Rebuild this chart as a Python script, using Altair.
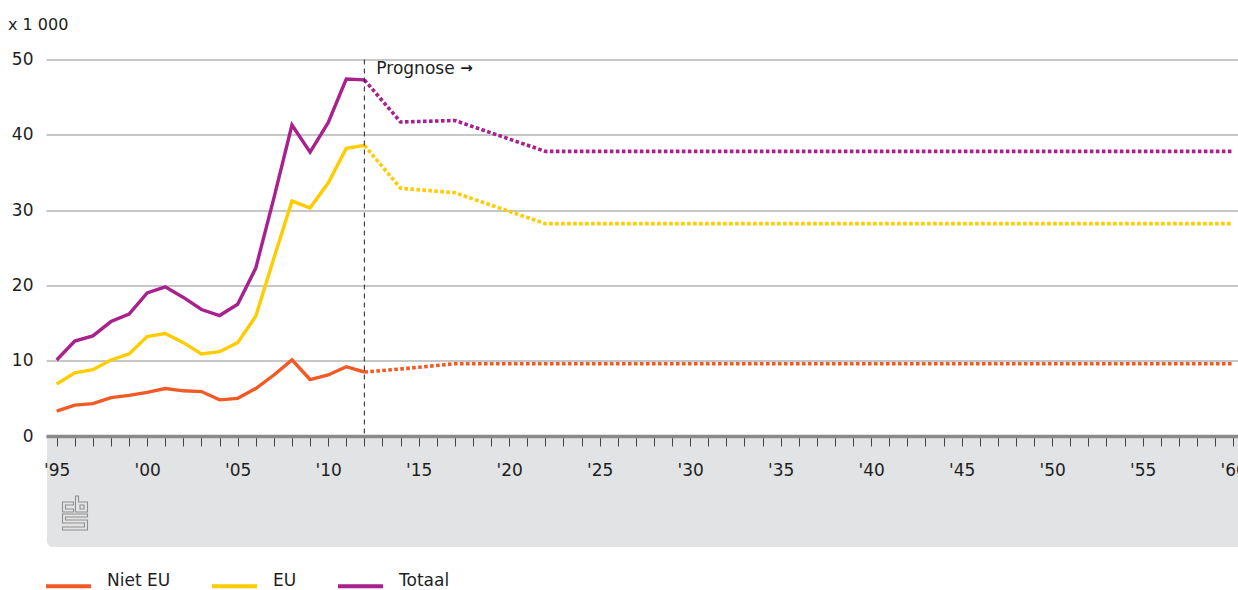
import altair as alt
import pandas as pd

# ---- data ----
series_names = ["Niet EU", "EU", "Totaal"]
series_colors = ["#f15a24", "#ffcc00", "#a8218e"]

years_hist = list(range(1995, 2013))
niet_eu_hist = [3.3, 4.1, 4.3, 5.1, 5.4, 5.8, 6.3, 6.0, 5.9, 4.8, 5.0, 6.3, 8.1, 10.1, 7.5, 8.1, 9.2, 8.5]
eu_hist = [6.9, 8.4, 8.8, 10.1, 10.9, 13.2, 13.6, 12.4, 10.9, 11.2, 12.4, 15.9, 23.6, 31.2, 30.3, 33.6, 38.2, 38.6]
totaal_hist = [10.1, 12.6, 13.3, 15.2, 16.2, 19.0, 19.8, 18.4, 16.8, 16.0, 17.5, 22.3, 31.6, 41.3, 37.7, 41.6, 47.4, 47.3]

years_prog = [2012, 2014, 2017, 2022, 2060]
niet_eu_prog = [8.5, 8.9, 9.6, 9.6, 9.6]
eu_prog = [38.6, 32.9, 32.3, 28.2, 28.2]
totaal_prog = [47.3, 41.7, 41.9, 37.8, 37.8]

x_ticks = list(range(1995, 2061))
y_ticks = [0, 10, 20, 30, 40, 50]
prognose_year = 2012

rows = []
for name, hv, pv in zip(series_names, [niet_eu_hist, eu_hist, totaal_hist],
                        [niet_eu_prog, eu_prog, totaal_prog]):
    for y, v in zip(years_hist, hv):
        rows.append({"year": y, "value": v, "series": name, "period": "hist"})
    for y, v in zip(years_prog, pv):
        rows.append({"year": y, "value": v, "series": name, "period": "prog"})
df = pd.DataFrame(rows)
df["order"] = df["series"].map({n: i for i, n in enumerate(series_names)})

W, H = 1192, 376.5
FONT = "DejaVu Sans"
TXT = "#1e1e1e"

xscale = alt.Scale(domain=[1994.41, 2060.27], nice=False, zero=False)
yscale = alt.Scale(domain=[0, 50], nice=False)
cscale = alt.Scale(domain=series_names, range=series_colors)

x_axis = alt.Axis(
    values=x_ticks, title=None, grid=False, zindex=1,
    labelExpr="datum.value % 5 === 0 ? \"'\" + substring(toString(datum.value), 2, 4) : ''",
    labelFontSize=17, labelColor=TXT, labelPadding=16, labelOverlap=False, labelFlush=False,
    tickSize=10, tickColor="#444444", tickWidth=1,
    domainColor="#8a8a8a", domainWidth=3.5)
y_axis = alt.Axis(
    values=y_ticks, title=None, grid=True, gridColor="#b5b5b5", gridWidth=1.5,
    domain=False, ticks=False, labelFontSize=17, labelColor=TXT, labelPadding=13)

one = pd.DataFrame({"a": [0]})

# grey band below the axis
band = alt.Chart(one).mark_rect(color="#e2e3e5", cornerRadiusBottomLeft=6).encode(
    x=alt.value(1), x2=alt.value(W), y=alt.value(H + 1), y2=alt.value(H + 111)
)

# CBS logo as a stroked custom symbol
def poly(pts):
    s = ""
    for i, (px, py) in enumerate(pts):
        nx = (px - 12.5) / 17.0
        ny = (py - 17.0) / 17.0
        s += ("M" if i == 0 else "L") + f"{nx:.3f},{ny:.3f}"
    return s + "Z"

logo_path = (
    poly([(11, 6), (0, 6), (0, 16), (11, 16), (11, 13), (3, 13), (3, 9), (11, 9)])
    + poly([(13, 0), (16, 0), (16, 6), (25, 6), (25, 16), (13, 16)])
    + poly([(17.5, 9), (21.5, 9), (21.5, 13), (17.5, 13)])
    + poly([(0, 18), (25, 18), (25, 21), (3, 21), (3, 24), (25, 24), (25, 34), (0, 34),
            (0, 31), (22, 31), (22, 27), (0, 27)])
)
logo = alt.Chart(one).mark_point(shape=logo_path, filled=False, size=34 * 34,
                                 color="#8f8f8f", strokeWidth=1.1, opacity=1).encode(
    x=alt.value(29), y=alt.value(453.5)
)

hist = alt.Chart(df).transform_filter("datum.period == 'hist'").mark_line(
    strokeWidth=3.4, strokeCap="butt", strokeJoin="miter").encode(
    x=alt.X("year:Q", scale=xscale, axis=x_axis),
    y=alt.Y("value:Q", scale=yscale, axis=y_axis),
    color=alt.Color("series:N", scale=cscale, sort=series_names, legend=alt.Legend(
        title=None, orient="none", legendX=-2, legendY=502, direction="horizontal",
        symbolType="stroke", symbolSize=2025, symbolStrokeWidth=4, symbolDash=[1, 0],
        labelFontSize=17, labelColor=TXT, labelOffset=14, columnPadding=33,
        labelBaseline="alphabetic", padding=0)),
    order="order:Q",
)
prog = alt.Chart(df).transform_filter("datum.period == 'prog'").mark_line(
    strokeWidth=3.6, strokeDash=[3.6, 2.4], strokeCap="butt").encode(
    x=alt.X("year:Q", scale=xscale, axis=x_axis),
    y=alt.Y("value:Q", scale=yscale, axis=y_axis),
    color=alt.Color("series:N", scale=cscale, sort=series_names),
    order="order:Q",
)

rule = alt.Chart(one).mark_rule(color="#222222", strokeWidth=1, strokeDash=[5, 4]).encode(
    x=alt.X(datum=prognose_year, scale=xscale, axis=x_axis), y=alt.value(0), y2=alt.value(H)
)
prog_label = alt.Chart(one).mark_text(text="Prognose", align="left", baseline="middle",
                                      fontSize=17, color=TXT, dx=12).encode(
    x=alt.X(datum=prognose_year, scale=xscale, axis=x_axis), y=alt.value(9)
)
prog_arrow = alt.Chart(one).mark_text(text="\u2192", align="left", baseline="middle",
                                      fontSize=15, fontWeight="bold", color=TXT, dx=96).encode(
    x=alt.X(datum=prognose_year, scale=xscale, axis=x_axis), y=alt.value(8)
)
unit_label = alt.Chart(one).mark_text(text="x 1 000", align="left", baseline="middle",
                                      fontSize=16, color=TXT).encode(
    x=alt.value(-38), y=alt.value(-34.5)
)

chart = alt.layer(band, logo, hist, prog, rule, prog_label, prog_arrow, unit_label).properties(
    width=W, height=H,
    autosize=alt.AutoSizeParams(type="none"),
    padding={"left": 46, "top": 59.5, "right": 0, "bottom": 154},
).configure(font=FONT).configure_view(stroke=None)

chart.save("out.html", embed_options={"renderer": "svg", "actions": False})
